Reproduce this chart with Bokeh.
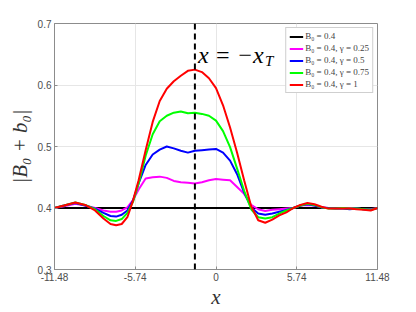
from bokeh.plotting import figure
from bokeh.models import FixedTicker, Span, Legend, LegendItem, Label
from bokeh.embed import file_html
from bokeh.resources import INLINE

# ---- data ----
x = [-11.48, -10.8, -10.0, -9.3, -8.6, -8.0, -7.5, -7.1, -6.7, -6.3, -5.9, -5.5, -5.0, -4.5,
     -4.0, -3.5, -3.0, -2.5, -2.0, -1.5, -1.0, -0.5, 0.0, 0.5, 1.0, 1.5, 2.0, 2.5, 3.0, 3.5,
     4.0, 4.5, 5.0, 5.5, 6.0, 6.5, 7.0, 7.5, 8.0, 8.5, 9.0, 9.5, 10.0, 10.5, 11.0, 11.48]

y_base = [0.4] * len(x)
y_g025 = [0.400, 0.403, 0.407, 0.404, 0.400, 0.396, 0.394, 0.394, 0.396, 0.401, 0.413, 0.430,
          0.448, 0.450, 0.451, 0.449, 0.444, 0.442, 0.441, 0.440, 0.442, 0.445, 0.447, 0.446,
          0.445, 0.434, 0.423, 0.405, 0.398, 0.395, 0.397, 0.398, 0.399, 0.400, 0.404, 0.405,
          0.404, 0.401, 0.400, 0.399, 0.399, 0.400, 0.399, 0.398, 0.398, 0.400]
y_g05 = [0.400, 0.404, 0.408, 0.404, 0.399, 0.392, 0.387, 0.386, 0.389, 0.396, 0.412, 0.440,
         0.470, 0.487, 0.495, 0.500, 0.497, 0.493, 0.490, 0.493, 0.494, 0.495, 0.496, 0.490,
         0.477, 0.455, 0.425, 0.401, 0.391, 0.389, 0.391, 0.394, 0.397, 0.400, 0.404, 0.406,
         0.404, 0.401, 0.400, 0.399, 0.399, 0.398, 0.399, 0.398, 0.397, 0.400]
y_g075 = [0.400, 0.404, 0.409, 0.405, 0.398, 0.387, 0.380, 0.379, 0.382, 0.392, 0.410, 0.440,
          0.485, 0.520, 0.541, 0.550, 0.555, 0.557, 0.554, 0.555, 0.553, 0.550, 0.542, 0.525,
          0.499, 0.464, 0.428, 0.398, 0.385, 0.383, 0.385, 0.391, 0.396, 0.400, 0.404, 0.407,
          0.405, 0.401, 0.399, 0.399, 0.400, 0.399, 0.399, 0.398, 0.397, 0.400]
y_g1 = [0.400, 0.404, 0.409, 0.405, 0.396, 0.383, 0.374, 0.372, 0.374, 0.385, 0.412, 0.445,
        0.494, 0.540, 0.574, 0.594, 0.606, 0.615, 0.623, 0.625, 0.621, 0.611, 0.595, 0.567,
        0.531, 0.490, 0.445, 0.403, 0.380, 0.376, 0.381, 0.388, 0.393, 0.400, 0.405, 0.408,
        0.406, 0.402, 0.399, 0.399, 0.399, 0.399, 0.398, 0.397, 0.396, 0.400]

x_T = 1.5
x_ticks = [-11.48, -5.74, 0, 5.74, 11.48]
x_tick_labels = ["-11.48", "-5.74", "0", "5.74", "11.48"]
y_ticks = [0.3, 0.4, 0.5, 0.6, 0.7]
y_tick_labels = ["0.3", "0.4", "0.5", "0.6", "0.7"]

series = [
    ("B\u2080 = 0.4", y_base, "black"),
    ("B\u2080 = 0.4, \u03b3 = 0.25", y_g025, "#ff00ff"),
    ("B\u2080 = 0.4, \u03b3 = 0.5", y_g05, "#0000ff"),
    ("B\u2080 = 0.4, \u03b3 = 0.75", y_g075, "#00ff00"),
    ("B\u2080 = 0.4, \u03b3 = 1", y_g1, "#ff0000"),
]

p = figure(width=416, height=312, output_backend="svg", toolbar_location=None,
           x_range=(-11.48, 11.48), y_range=(0.3, 0.7),
           min_border_left=54, min_border_right=39, min_border_top=23, min_border_bottom=43)
p.background_fill_color = "white"
p.border_fill_color = "white"
p.outline_line_color = "#8c8c8c"
p.outline_line_width = 1

for ax in (p.xaxis, p.yaxis):
    ax.axis_line_color = "#8c8c8c"
    ax.major_tick_line_color = "#8c8c8c"
    ax.major_tick_in = 3
    ax.major_tick_out = 0
    ax.minor_tick_line_color = None
    ax.major_label_text_font = "Liberation Sans"
    ax.major_label_text_font_size = "10px"
    ax.major_label_text_color = "#4d4d4d"
    ax.axis_label_text_font = "Liberation Serif"
    ax.axis_label_text_font_style = "italic"
    ax.axis_label_text_color = "#333333"

p.xaxis.ticker = FixedTicker(ticks=x_ticks)
p.xaxis.major_label_overrides = dict(zip(x_ticks, x_tick_labels))
p.yaxis.ticker = FixedTicker(ticks=y_ticks)
p.yaxis.major_label_overrides = dict(zip(y_ticks, y_tick_labels))
p.xaxis.major_label_standoff = 3
p.yaxis.major_label_standoff = 3
p.xaxis.axis_label = "x"
p.xaxis.axis_label_text_font_size = "21px"
p.xaxis.axis_label_standoff = 1
p.yaxis.axis_label = "|B\u2080 + b\u2080|"
p.yaxis.axis_label_text_font_size = "21px"
p.yaxis.axis_label_standoff = 3

p.xgrid.grid_line_color = "#e6e6e6"
p.ygrid.grid_line_color = "#e6e6e6"

items = []
for label, ys, color in series:
    r = p.line(x, ys, line_color=color, line_width=2)
    items.append(LegendItem(label=label, renderers=[r]))

p.add_layout(Span(location=-x_T, dimension="height", line_color="black",
                  line_width=2, line_dash="6 4"))

lab = Label(x=-x_T, y=0.648, x_offset=3, text="x = \u2212x", text_font="Liberation Serif",
            text_font_style="italic", text_font_size="24px", text_baseline="middle",
            text_color="black")
p.add_layout(lab)
lab2 = Label(x=-x_T, y=0.648, x_offset=70, y_offset=-6, text="T", text_font="Liberation Serif",
             text_font_style="italic", text_font_size="15px", text_baseline="middle",
             text_color="black")
p.add_layout(lab2)

legend = Legend(items=items, location="top_right")
legend.label_text_font = "Liberation Serif"
legend.label_text_font_size = "9px"
legend.label_height = 9
legend.glyph_height = 9
legend.glyph_width = 14
legend.label_standoff = 2
legend.spacing = 2
legend.padding = 3
legend.margin = 4
legend.border_line_color = "#a0a0a0"
legend.background_fill_alpha = 1
p.add_layout(legend)

open("out.html", "w").write(file_html(p, INLINE))
